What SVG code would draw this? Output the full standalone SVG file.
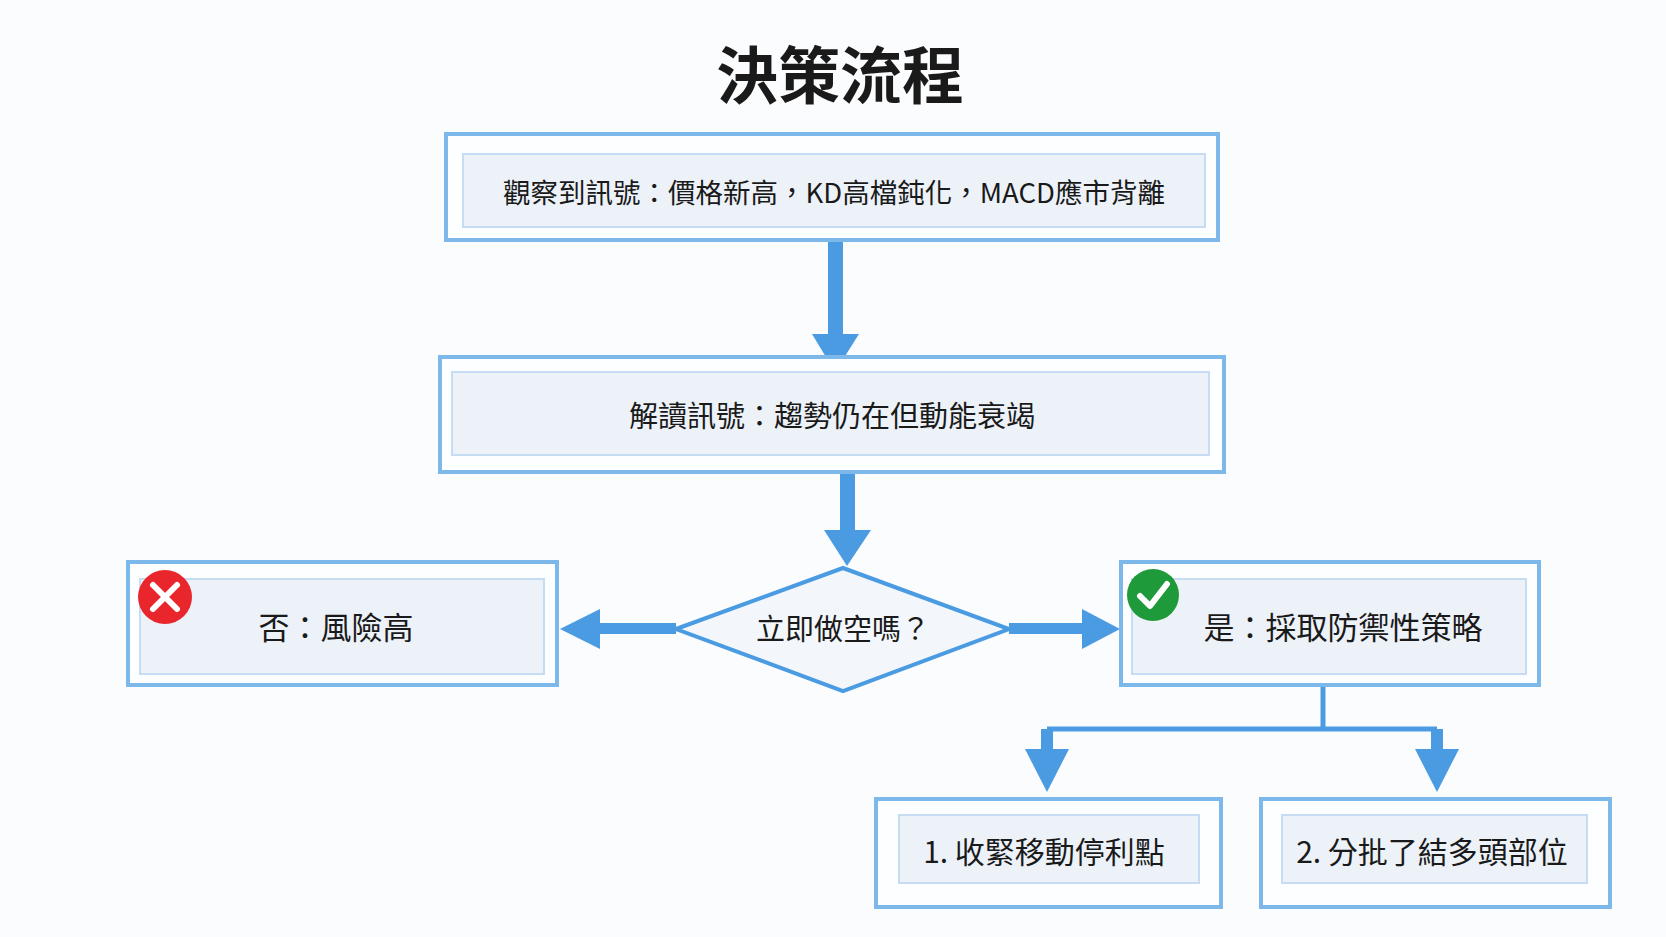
<svg xmlns="http://www.w3.org/2000/svg" width="1666" height="937" viewBox="0 0 1666 937">
<defs>
<style>
.outer{fill:#fdfeff;stroke:#7cb8ea;stroke-width:4}
.inner{fill:#edf2f9;stroke:#c6dcf2;stroke-width:2}
.t{font-family:"Noto Sans CJK TC","Noto Sans CJK SC",sans-serif;fill:#1a1a1a;text-anchor:middle;dominant-baseline:central}
.ar{fill:#4a9be2}
.ln{stroke:#4a9be2;fill:none}
</style>
</defs>
<rect width="1666" height="937" fill="#fbfcfe"/>
<text class="t" x="840" y="72" font-size="62" font-weight="bold">決策流程</text>
<g id="connectors">
<rect class="ar" x="828" y="240" width="15" height="96"/><polygon class="ar" points="812,334 859,334 835,372"/>
<rect class="ar" x="840" y="472" width="15" height="60"/><polygon class="ar" points="824,530 871,530 847,566"/>
<rect class="ar" x="596" y="623" width="80" height="11"/><polygon class="ar" points="600,609 600,649 560,629"/>
<rect class="ar" x="1009" y="623" width="75" height="11"/><polygon class="ar" points="1082,609 1082,649 1120,629"/>
<path class="ln" stroke-width="5" d="M1323,685 V729 M1047,729 H1437"/>
<rect class="ar" x="1041" y="729" width="12" height="22"/><polygon class="ar" points="1025,749 1069,749 1047,792"/>
<rect class="ar" x="1431" y="729" width="12" height="22"/><polygon class="ar" points="1415,749 1459,749 1437,792"/>
</g>
<g id="n1"><rect class="outer" x="446" y="134" width="772" height="106"/><rect class="inner" x="463" y="154" width="742" height="73"/>
<text class="t" x="834" y="191" font-size="27.5">觀察到訊號：價格新高，KD高檔鈍化，MACD應市背離</text></g>
<g id="n2"><rect class="outer" x="440" y="357" width="784" height="115"/><rect class="inner" x="452" y="372" width="757" height="83"/>
<text class="t" x="832" y="414" font-size="29">解讀訊號：趨勢仍在但動能衰竭</text></g>
<g id="n3"><polygon points="676,629 843,568 1009,629 843,691" fill="#f3f7fc" stroke="#4a9be2" stroke-width="4"/>
<text class="t" x="843" y="627" font-size="29">立即做空嗎？</text></g>
<g id="n4"><rect class="outer" x="128" y="562" width="429" height="123"/><rect class="inner" x="140" y="579" width="404" height="95"/>
<circle cx="165" cy="597" r="27" fill="#e8262c"/><path d="M153,585 L177,609 M177,585 L153,609" stroke="#fff" stroke-width="6" stroke-linecap="round"/>
<text class="t" x="336" y="625" font-size="31">否：風險高</text></g>
<g id="n5"><rect class="outer" x="1121" y="562" width="418" height="123"/><rect class="inner" x="1132" y="579" width="394" height="95"/>
<circle cx="1153" cy="595" r="26" fill="#1f9a3a"/><path d="M1140,596 L1150,606 L1167,584" stroke="#fff" stroke-width="6" fill="none" stroke-linecap="round" stroke-linejoin="round"/>
<text class="t" x="1343" y="625" font-size="31">是：採取防禦性策略</text></g>
<g id="n6"><rect class="outer" x="876" y="799" width="345" height="108"/><rect class="inner" x="899" y="815" width="300" height="68"/>
<text class="t" x="1044" y="850" font-size="30">1. 收緊移動停利點</text></g>
<g id="n7"><rect class="outer" x="1261" y="799" width="349" height="108"/><rect class="inner" x="1282" y="815" width="305" height="68"/>
<text class="t" x="1432" y="850" font-size="30">2. 分批了結多頭部位</text></g>
</svg>
